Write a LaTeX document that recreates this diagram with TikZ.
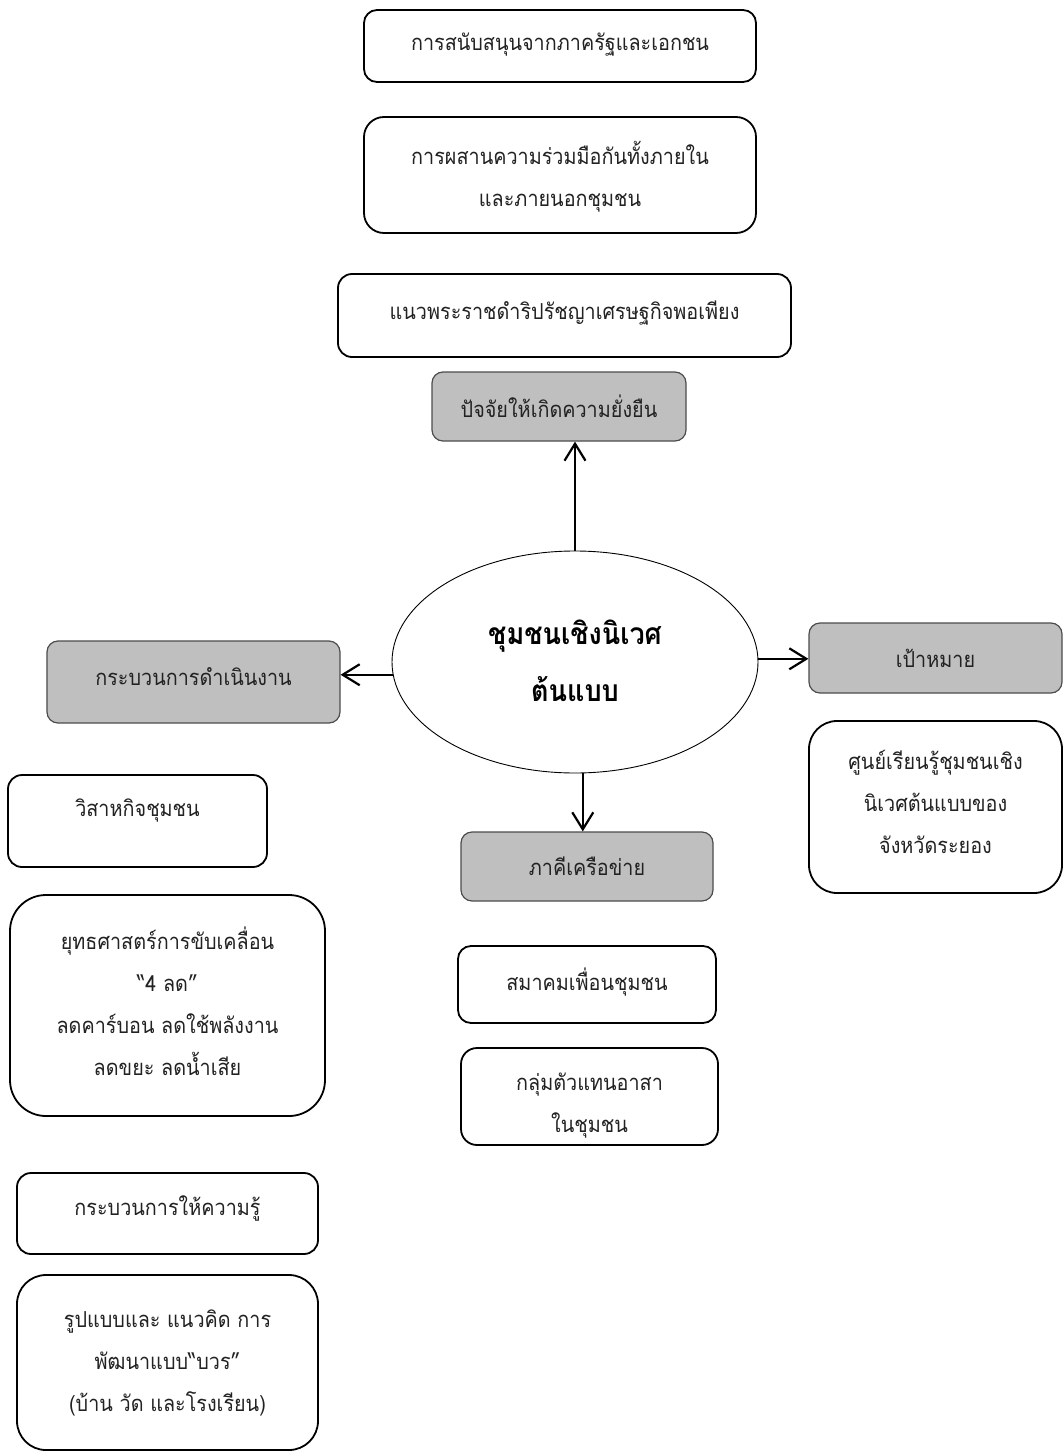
\documentclass[tikz,border=0pt]{standalone}
\usepackage{fontspec}
\setmainfont[Script=Thai, FakeStretch=0.9]{Loma}
\usetikzlibrary{shapes.geometric,arrows.meta}
\definecolor{boxgray}{HTML}{BFBFBF}
\definecolor{txt}{HTML}{222222}
\tikzset{
  wbox/.style={draw=black, line width=1.8bp, fill=white, inner sep=0pt},
  gbox/.style={draw=black!70, line width=1.2bp, fill=boxgray, inner sep=0pt, rounded corners=11bp},
  lbl/.style={align=center, text=txt, inner sep=0pt, font=\fontsize{22bp}{42bp}\selectfont},
  arr/.style={line width=2bp, -{Straight Barb[length=17bp,width=21bp,line width=2.2bp]}},
}
\begin{document}
\begin{tikzpicture}[x=1bp,y=-1bp]
\useasboundingbox (0,0) rectangle (1063,1452);
% white boxes
\node[wbox, rounded corners=13bp, minimum width=392bp, minimum height=72bp] (b1) at (560,46) {};
\node[lbl] (t1) at (560,45) {การสนับสนุนจากภาครัฐและเอกชน};
\node[wbox, rounded corners=20bp, minimum width=392bp, minimum height=116bp] (b2) at (560,175) {};
\node[lbl] (t2) at (560,177) {การผสานความร่วมมือกันทั้งภายใน\\และภายนอกชุมชน};
\node[wbox, rounded corners=14bp, minimum width=453bp, minimum height=83bp] (b3) at (564.5,315.5) {};
\node[lbl] (t3) at (564.5,313) {แนวพระราชดำริปรัชญาเศรษฐกิจพอเพียง};
% gray boxes
\node[gbox, minimum width=254bp, minimum height=69bp] (g1) at (559,406.5) {};
\node[lbl] (u1) at (559,406) {ปัจจัยให้เกิดความยั่งยืน};
\node[gbox, minimum width=293bp, minimum height=82bp] (g2) at (193.5,682) {};
\node[lbl] (u2) at (193.5,677) {กระบวนการดำเนินงาน};
\node[gbox, minimum width=253bp, minimum height=70bp] (g3) at (935.5,658) {};
\node[lbl] (u3) at (935.5,658) {เป้าหมาย};
\node[gbox, minimum width=252bp, minimum height=69bp] (g4) at (587,866.5) {};
\node[lbl] (u4) at (587,866) {ภาคีเครือข่าย};
% centre ellipse
\node[ellipse, draw=black, line width=0.9bp, fill=white, minimum width=366bp, minimum height=222bp] (ell) at (575,662) {};
\node[align=center, inner sep=0pt, font=\fontsize{30bp}{57bp}\selectfont\bfseries] (ct) at (575,661) {ชุมชนเชิงนิเวศ\\ต้นแบบ};
% right column
\node[wbox, rounded corners=28bp, minimum width=253bp, minimum height=172bp] (b4) at (935.5,807) {};
\node[lbl] (t4) at (935.5,802) {ศูนย์เรียนรู้ชุมชนเชิง\\นิเวศต้นแบบของ\\จังหวัดระยอง};
% left column
\node[wbox, rounded corners=14bp, minimum width=259bp, minimum height=92bp] (b5) at (137.5,821) {};
\node[lbl] (t5) at (137.5,811) {วิสาหกิจชุมชน};
\node[wbox, rounded corners=36bp, minimum width=315bp, minimum height=221bp] (b6) at (167.5,1005.5) {};
\node[lbl] (t6) at (167.5,1001) {ยุทธศาสตร์การขับเคลื่อน\\“4 ลด”\\ลดคาร์บอน ลดใช้พลังงาน\\ลดขยะ ลดน้ำเสีย};
\node[wbox, rounded corners=14bp, minimum width=301bp, minimum height=81bp] (b9) at (167.5,1213.5) {};
\node[lbl] (t9) at (167.5,1208) {กระบวนการให้ความรู้};
\node[wbox, rounded corners=29bp, minimum width=301bp, minimum height=175bp] (b10) at (167.5,1362.5) {};
\node[lbl] (t10) at (167.5,1363) {รูปแบบและ แนวคิด การ\\พัฒนาแบบ“บวร”\\(บ้าน วัด และโรงเรียน)};
% middle column
\node[wbox, rounded corners=13bp, minimum width=258bp, minimum height=77bp] (b7) at (587,984.5) {};
\node[lbl] (t7) at (587,982) {สมาคมเพื่อนชุมชน};
\node[wbox, rounded corners=16bp, minimum width=257bp, minimum height=97bp] (b8) at (589.5,1096.5) {};
\node[lbl] (t8) at (589.5,1106) {กลุ่มตัวแทนอาสา\\ในชุมชน};
% connectors
\draw[arr] (ell.north) -- (ell.north |- g1.south);
\draw[arr] (ell.184) -- (ell.184 -| g2.east);
\draw[arr] (ell.1) -- (ell.1 -| g3.west);
\draw[arr] (ell.274) -- (ell.274 |- g4.north);
\end{tikzpicture}
\end{document}
